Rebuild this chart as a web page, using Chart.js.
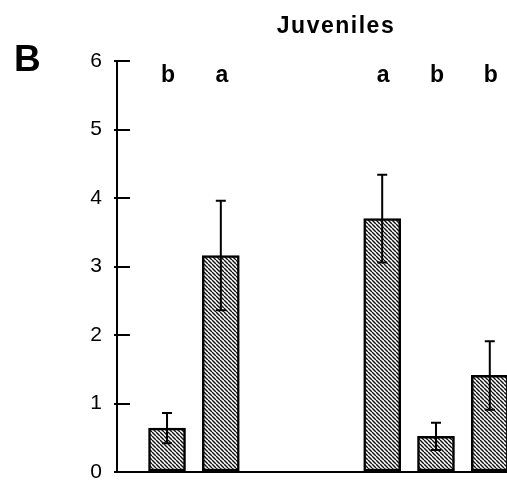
<!DOCTYPE html>
<html>
<head>
<meta charset="utf-8">
<script src="https://cdn.jsdelivr.net/npm/chart.js@4.4.1/dist/chart.umd.min.js"></script>
<style>
  html, body { margin:0; padding:0; background:#fff; overflow:hidden; }
  #wrap { width:507px; height:485px; position:relative; }
</style>
</head>
<body>
<div id="wrap"><canvas id="chart"></canvas></div>
<script>
// group slots (slots 3 and 4 are empty in the figure)
const categories = ['1', '2', '3', '4', '5', '6', '7'];
const means  = [0.64, 3.16, null, null, 3.70, 0.52, 1.41];
const errors = [0.22, 0.80, null, null, 0.64, 0.20, 0.50];
const letters = ['b', 'a', null, null, 'a', 'b', 'b'];
const yTicks = [0, 1, 2, 3, 4, 5, 6];

// dense diagonal hatching like the print
function hatch() {
  const s = 4;
  const c = document.createElement('canvas');
  c.width = s; c.height = s;
  const g = c.getContext('2d');
  g.fillStyle = '#fff';
  g.fillRect(0, 0, s, s);
  g.strokeStyle = '#111';
  g.lineWidth = 1.4;
  g.beginPath();
  for (const k of [-s, 0, s]) { g.moveTo(k, 0); g.lineTo(k + s, s); }
  g.stroke();
  return g.createPattern(c, 'repeat');
}

const points = [];
categories.forEach((c, i) => { if (means[i] != null) points.push({x: i, y: means[i]}); });

const extras = {
  id: 'extras',
  afterDatasetsDraw(chart) {
    const {ctx, scales: {x, y}, chartArea} = chart;
    ctx.save();
    // inward tick marks on the y axis
    ctx.strokeStyle = '#000';
    ctx.lineWidth = 2;
    yTicks.forEach(t => {
      const py = Math.round(y.getPixelForValue(t));
      ctx.beginPath();
      ctx.moveTo(chartArea.left - 3, py);
      ctx.lineTo(chartArea.left + 13, py);
      ctx.stroke();
    });
    // error bars
    categories.forEach((c, i) => {
      if (means[i] == null) return;
      const px = x.getPixelForValue(i);
      const top = y.getPixelForValue(means[i] + errors[i]);
      const bot = y.getPixelForValue(means[i] - errors[i]);
      ctx.beginPath();
      ctx.moveTo(px, top); ctx.lineTo(px, bot);
      ctx.moveTo(px - 5, top); ctx.lineTo(px + 5, top);
      ctx.moveTo(px - 5, bot); ctx.lineTo(px + 5, bot);
      ctx.stroke();
    });
    // significance letters
    ctx.fillStyle = '#000';
    ctx.font = 'bold 23px "Liberation Sans", Arial, sans-serif';
    ctx.textAlign = 'center';
    ctx.textBaseline = 'alphabetic';
    letters.forEach((l, i) => {
      if (!l) return;
      ctx.fillText(l, x.getPixelForValue(i) + 1, 82);
    });
    // title and panel letter
    ctx.letterSpacing = '1.5px';
    ctx.fillText('Juveniles', 336, 33);
    ctx.letterSpacing = '0px';
    ctx.textAlign = 'left';
    ctx.font = 'bold 37px "Liberation Sans", Arial, sans-serif';
    ctx.fillText('B', 14, 71);
    ctx.restore();
  }
};

new Chart(document.getElementById('chart'), {
  type: 'bar',
  data: {
    datasets: [{
      data: points,
      backgroundColor: hatch(),
      borderColor: '#000',
      borderWidth: 2.5,
      borderSkipped: false,
      barThickness: 37
    }]
  },
  options: {
    responsive: true,
    maintainAspectRatio: false,
    animation: false,
    layout: { padding: { top: 61, left: 0, right: 0, bottom: 0 } },
    plugins: { legend: { display: false }, tooltip: { enabled: false } },
    scales: {
      x: {
        type: 'linear',
        display: false,
        offset: false,
        min: -0.93, max: 6.32
      },
      y: {
        min: 0, max: 6,
        afterBuildTicks: s => { s.ticks = yTicks.map(v => ({value: v})); },
        grid: {
          drawTicks: false,
          lineWidth: 2,
          color: c => c.tick && c.tick.value === 0 ? '#000' : 'rgba(0,0,0,0)'
        },
        border: { display: true, color: '#000', width: 2 },
        ticks: {
          color: '#000',
          padding: 15,
          font: { family: '"Liberation Sans", Arial, sans-serif', size: 21 }
        },
        afterFit: s => { s.width = 117; s.paddingBottom = 13; s.paddingTop = 13; }
      }
    }
  },
  plugins: [extras]
});
</script>
</body>
</html>
